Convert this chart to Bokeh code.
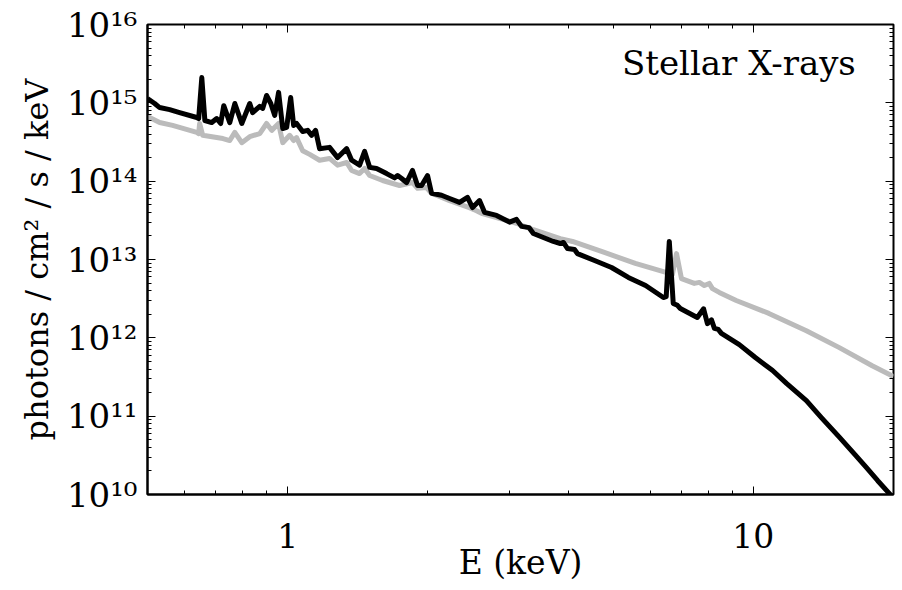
from bokeh.plotting import figure
from bokeh.models import LogAxis, FixedTicker, CustomJSTickFormatter, Label
from bokeh.embed import file_html
from bokeh.resources import INLINE

# Photon spectrum (photons / cm^2 / s / keV) against energy (keV)
black_E = [0.50, 0.518, 0.531, 0.558, 0.586, 0.638, 0.644, 0.654, 0.664, 0.687,
           0.704, 0.718, 0.729, 0.751, 0.770, 0.797, 0.829, 0.841, 0.871, 0.884,
           0.901, 0.920, 0.938, 0.956, 0.976, 0.995, 1.015, 1.030, 1.045, 1.077,
           1.104, 1.126, 1.148, 1.171, 1.230, 1.280, 1.339, 1.372, 1.427, 1.463,
           1.500, 1.552, 1.631, 1.697, 1.722, 1.757, 1.800, 1.854, 1.901, 1.939,
           1.997, 2.037, 2.140, 2.227, 2.339, 2.433, 2.495, 2.582, 2.647, 2.809,
           2.995, 3.100, 3.178, 3.30, 3.37, 3.72, 3.85, 3.91, 3.99, 4.13,
           4.19, 4.56, 4.96, 5.39, 5.87, 6.41, 6.50, 6.60, 6.73, 6.87,
           6.97, 7.58, 7.82, 7.97, 8.13, 8.25, 8.41, 8.54, 9.33, 10.1,
           11.0, 11.8, 13.0, 14.0, 15.3, 16.55, 17.5, 18.5, 20.0]
black_F = [1.13e15, 9.8e14, 8.7e14, 8.2e14, 7.5e14, 6.5e14, 6.3e14, 2.1e15, 5.95e14, 5.6e14,
           6.3e14, 5.45e14, 9.2e14, 5.6e14, 9.8e14, 5.45e14, 9.8e14, 7.5e14, 9.0e14, 8.5e14,
           1.24e15, 9.8e14, 6.9e14, 1.36e15, 4.7e14, 4.85e14, 1.17e15, 5.15e14, 5.45e14, 4.3e14,
           4.45e14, 3.85e14, 4.45e14, 2.6e14, 2.7e14, 2.0e14, 2.6e14, 1.85e14, 1.6e14, 2.4e14,
           1.5e14, 1.45e14, 1.25e14, 1.1e14, 1.18e14, 1.08e14, 9.6e13, 1.37e14, 8.8e13, 8.8e13,
           1.18e14, 7.0e13, 6.6e13, 6.0e13, 5.35e13, 6.2e13, 4.6e13, 5.65e13, 4.0e13, 3.65e13,
           3.0e13, 3.25e13, 2.65e13, 2.55e13, 2.15e13, 1.7e13, 1.6e13, 1.65e13, 1.38e13, 1.34e13,
           1.19e13, 9.7e12, 7.9e12, 5.9e12, 4.65e12, 3.27e12, 3.35e12, 1.7e13, 2.75e12, 2.6e12,
           2.37e12, 1.82e12, 2.35e12, 1.52e12, 1.7e12, 1.32e12, 1.28e12, 1.14e12, 8.2e11, 5.6e11,
           3.83e11, 2.6e11, 1.58e11, 9.6e10, 5.4e10, 3.2e10, 2.2e10, 1.5e10, 9.0e9]

grey_E = [0.50, 0.531, 0.566, 0.638, 0.644, 0.647, 0.657, 0.704, 0.726, 0.751,
          0.770, 0.797, 0.829, 0.871, 0.901, 0.924, 0.956, 0.976, 1.010, 1.030,
          1.045, 1.077, 1.115, 1.171, 1.230, 1.280, 1.339, 1.372, 1.427, 1.463,
          1.500, 1.599, 1.739, 1.854, 1.901, 1.987, 2.037, 2.227, 2.456, 2.544,
          2.62, 3.10, 3.37, 3.85, 4.09, 4.72, 5.58, 6.52, 6.70, 6.84,
          7.01, 7.47, 7.66, 7.85, 8.04, 8.17, 8.45, 9.19, 10.8, 13.0,
          15.3, 18.0, 20.0]
grey_F = [6.7e14, 5.6e14, 5.15e14, 4.2e14, 4.05e14, 5.45e14, 3.85e14, 3.6e14, 3.5e14, 3.3e14,
          4.2e14, 3.1e14, 3.7e14, 4.05e14, 5.45e14, 4.45e14, 5.45e14, 3.1e14, 3.85e14, 3.3e14,
          3.6e14, 2.45e14, 2.2e14, 1.85e14, 1.95e14, 1.6e14, 1.73e14, 1.37e14, 1.25e14, 1.45e14,
          1.18e14, 1.02e14, 8.8e13, 9.6e13, 8.1e13, 8.3e13, 7.0e13, 5.65e13, 4.6e13, 4.2e13,
          3.85e13, 2.9e13, 2.4e13, 1.85e13, 1.7e13, 1.27e13, 8.9e12, 6.8e12, 6.4e12, 1.19e13,
          5.7e12, 4.95e12, 5.1e12, 4.65e12, 4.95e12, 4.25e12, 3.8e12, 3.0e12, 2.05e12, 1.23e12,
          7.5e11, 4.4e11, 3.2e11]

x_major = [1, 10]
x_minor = [0.6, 0.7, 0.8, 0.9, 2, 3, 4, 5, 6, 7, 8, 9, 20]
y_major = [10.0 ** k for k in range(10, 17)]
y_minor = [m * 10.0 ** k for k in range(10, 16) for m in range(2, 10)]

FONT = "DejaVu Serif"
INK = "black"

p = figure(width=902, height=590, x_axis_type="log", y_axis_type="log",
           x_range=(0.5, 20), y_range=(1e10, 1e16),
           output_backend="svg", toolbar_location=None,
           min_border_left=147, min_border_right=9,
           min_border_top=24, min_border_bottom=96,
           background_fill_color="white", border_fill_color="white")
p.grid.visible = False
p.outline_line_color = INK
p.outline_line_width = 2

sup_js = """
const sup = {"0":"\u2070","1":"\u00b9","2":"\u00b2","3":"\u00b3","4":"\u2074",
             "5":"\u2075","6":"\u2076","7":"\u2077","8":"\u2078","9":"\u2079","-":"\u207b"};
const e = Math.round(Math.log10(tick));
return "10" + String(e).split("").map(c => sup[c]).join("");
"""

xt = FixedTicker(ticks=x_major, minor_ticks=x_minor)
yt = FixedTicker(ticks=y_major, minor_ticks=y_minor)


def style_axis(ax):
    ax.axis_line_color = INK
    ax.axis_line_width = 2
    ax.major_tick_in = 8
    ax.major_tick_out = 0
    ax.minor_tick_in = 4
    ax.minor_tick_out = 0
    ax.major_tick_line_color = INK
    ax.minor_tick_line_color = INK
    ax.major_tick_line_width = 1
    ax.minor_tick_line_width = 1
    ax.major_label_text_font = FONT
    ax.major_label_text_color = INK
    ax.axis_label_text_font = FONT
    ax.axis_label_text_font_style = "normal"
    ax.axis_label_text_color = INK


xa = p.xaxis[0]
xa.ticker = xt
style_axis(xa)
xa.formatter = CustomJSTickFormatter(code="return String(Math.round(tick));")
xa.major_label_text_font_size = "33px"
xa.major_label_standoff = 28
xa.axis_label = "E (keV)"
xa.axis_label_text_font_size = "33px"
xa.axis_label_standoff = -8

ya = p.yaxis[0]
ya.ticker = yt
style_axis(ya)
ya.formatter = CustomJSTickFormatter(code=sup_js)
ya.major_label_text_font_size = "34px"
ya.major_label_standoff = 10
ya.axis_label = "photons / cm\u00b2 / s / keV"
ya.axis_label_text_font_size = "32px"
ya.axis_label_standoff = 8

# mirrored tick marks on the top and right edges
for loc, ticker in (("above", xt), ("right", yt)):
    ax = LogAxis(ticker=ticker, formatter=CustomJSTickFormatter(code="return '';"))
    style_axis(ax)
    ax.major_label_standoff = 0
    ax.axis_line_color = None
    p.add_layout(ax, loc)

p.line(grey_E, grey_F, line_color="#bbbbbb", line_width=5, line_join="round")
p.line(black_E, black_F, line_color=INK, line_width=5, line_join="round")

p.add_layout(Label(x=16.6, y=3.27e15, text="Stellar X-rays", text_align="right",
                   text_baseline="alphabetic", text_font=FONT,
                   text_font_size="34px", text_color=INK))

open("out.html", "w").write(file_html(p, INLINE))
